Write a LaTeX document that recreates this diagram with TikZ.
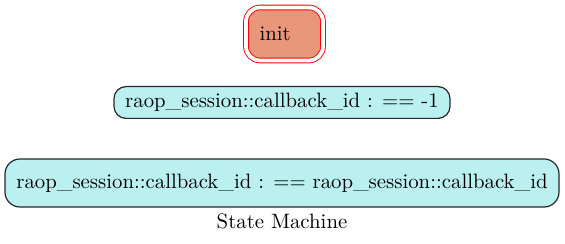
\documentclass[tikz,border=0pt]{standalone}
\usepackage{tikz}
\definecolor{initfill}{RGB}{234,150,122}
\definecolor{statefill}{RGB}{186,241,240}

\begin{document}
\begin{tikzpicture}[x=0.5pt,y=-0.5pt,
  every node/.style={font=\fontsize{10.4}{13}\selectfont},
  initstate/.style={draw=red,double=white,double distance=1.9pt,line width=0.45pt,
    fill=initfill,rounded corners=7pt,minimum width=38.5pt,minimum height=26.5pt,
    text width=25pt,align=left,inner xsep=6.75pt},
  statebox/.style={draw=black!85,line width=0.6pt,fill=statefill,rounded corners=#1}]
\useasboundingbox (0,0) rectangle (565,244);
\node[initstate] (init) at (284.5,34) {init}; %initial state
\node[statebox=6pt,minimum width=168pt,minimum height=15pt] (s1) at (282,102.5)
  {raop\_session::callback\_id : == -1};
\node[statebox=7.5pt,minimum width=277pt,minimum height=24pt] (s2) at (282,183)
  {raop\_session::callback\_id : == raop\_session::callback\_id};
\node (title) at (282,221) {State Machine}; %graph label
\end{tikzpicture}
\end{document}
